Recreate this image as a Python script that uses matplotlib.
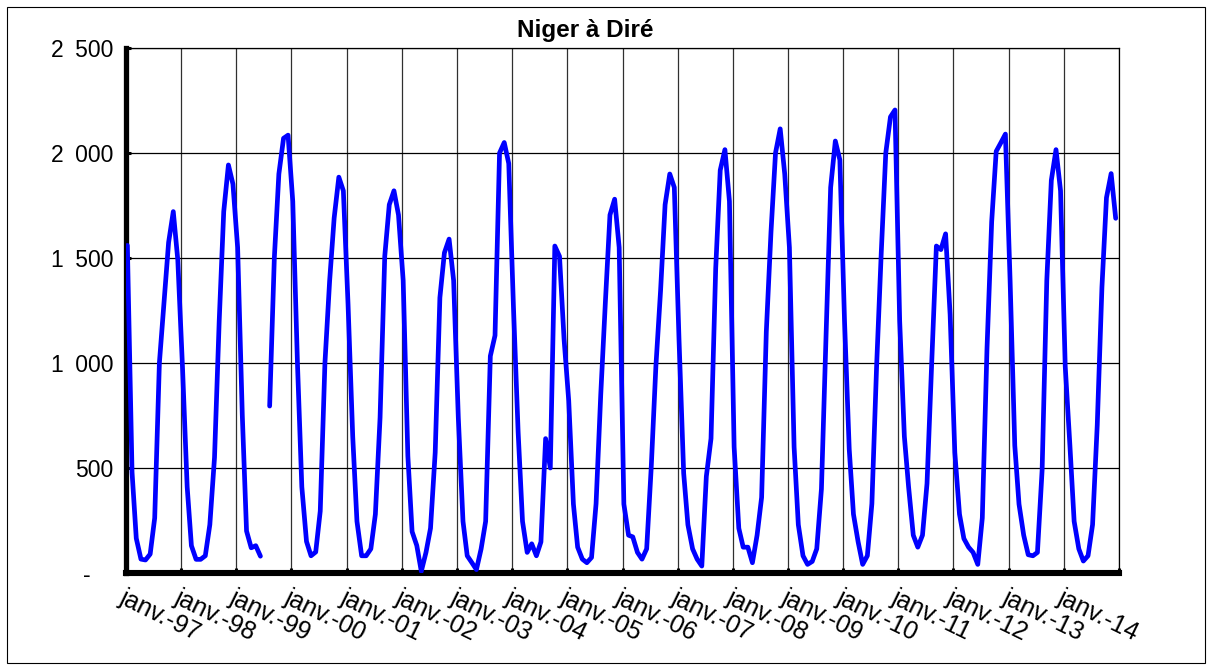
import datetime as dt
import numpy as np
import matplotlib
matplotlib.use("Agg")
import matplotlib.pyplot as plt
from matplotlib.patches import Rectangle

# Monthly flows (m3/s), Niger at Diré, Jan..Dec of each year
flow_1997 = [1560, 480, 165, 66, 62, 90, 262, 1000, 1295, 1574, 1721, 1490]
flow_1998 = [980, 410, 130, 65, 65, 82, 230, 550, 1200, 1721, 1943, 1852]
flow_1999 = [1550, 750, 200, 120, 130, 80, np.nan, 795, 1500, 1900, 2070, 2085]
flow_2000 = [1770, 1000, 410, 150, 82, 100, 295, 1000, 1390, 1690, 1885, 1820]
flow_2001 = [1280, 650, 246, 82, 82, 115, 280, 740, 1508, 1754, 1820, 1705]
flow_2002 = [1393, 557, 197, 131, 8, 98, 213, 574, 1311, 1525, 1590, 1393]
flow_2003 = [740, 246, 82, 49, 16, 115, 246, 1033, 1131, 2000, 2050, 1950]
flow_2004 = [1269, 672, 246, 98, 139, 82, 148, 640, 500, 1557, 1508, 1115]
flow_2005 = [820, 328, 123, 66, 49, 74, 330, 850, 1295, 1705, 1780, 1550]
flow_2006 = [328, 180, 172, 98, 66, 115, 500, 984, 1344, 1754, 1900, 1836]
flow_2007 = [1115, 475, 230, 115, 66, 33, 460, 640, 1450, 1918, 2016, 1770]
flow_2008 = [600, 213, 123, 123, 49, 180, 360, 1148, 1623, 2000, 2115, 1900]
flow_2009 = [1550, 600, 230, 82, 41, 55, 115, 400, 1140, 1836, 2057, 1967]
flow_2010 = [1197, 590, 280, 148, 41, 82, 330, 980, 1525, 2000, 2172, 2205]
flow_2011 = [1200, 650, 410, 180, 123, 180, 426, 1000, 1557, 1540, 1615, 1230]
flow_2012 = [574, 280, 164, 123, 98, 41, 262, 1066, 1672, 2008, 2049, 2090]
flow_2013 = [1393, 607, 328, 180, 87, 82, 98, 490, 1393, 1870, 2016, 1820]
flow_2014 = [984, 607, 246, 115, 57, 82, 230, 705, 1360, 1787, 1902, 1689]

years = list(range(1997, 2015))
yearly = [flow_1997, flow_1998, flow_1999, flow_2000, flow_2001, flow_2002,
          flow_2003, flow_2004, flow_2005, flow_2006, flow_2007, flow_2008,
          flow_2009, flow_2010, flow_2011, flow_2012, flow_2013, flow_2014]

title = "Niger à Diré"
y_ticks = [0, 500, 1000, 1500, 2000, 2500]
y_labels = ["-\u2002\u2002", "500", "1\u2002000", "1\u2002500", "2\u2002000", "2\u2002500"]
x_tick_years = list(range(1997, 2016))
x_labels = [f"janv.-{y % 100:02d}" for y in range(1997, 2015)] + [""]

dates = []
flows = []
for y, vals in zip(years, yearly):
    for m, v in enumerate(vals, start=1):
        dates.append(dt.datetime(y, m, 10))
        flows.append(v)

W, H = 1210, 669
fig = plt.figure(figsize=(W / 100, H / 100), dpi=100)
fig.patch.set_facecolor("white")

# outer frame of the chart
fig.add_artist(Rectangle((7 / W, 6 / H), 1198 / W, 656 / H, transform=fig.transFigure,
                         fill=False, edgecolor="black", lw=0.8))

L, R, T, B = 126, 1119, 48, 573
ax = fig.add_axes([L / W, 1 - B / H, (R - L) / W, (B - T) / H])

ax.plot(dates, flows, color="#0000FF", lw=3.4, solid_joinstyle="round",
        solid_capstyle="round", zorder=3)

ax.set_xlim(dt.datetime(1997, 1, 1), dt.datetime(2015, 1, 1))
ax.set_ylim(0, 2500)
ax.set_yticks(y_ticks)
ax.set_yticklabels(y_labels)
ax.set_xticks([dt.datetime(y, 1, 1) for y in x_tick_years])
ax.set_xticklabels(x_labels)

ax.grid(True, color="black", lw=0.9, zorder=1)
ax.xaxis.grid(True, color="#303030", lw=0.9)
for s in ["top", "right"]:
    ax.spines[s].set_linewidth(0.9)
ax.spines["left"].set_linewidth(3.8)
ax.spines["bottom"].set_linewidth(4.4)

ax.tick_params(axis="both", direction="in", length=3.5, width=2.2, color="black")
ax.tick_params(axis="y", pad=9, labelsize=16.5)
ax.tick_params(axis="x", pad=9, labelsize=18)
for lab in ax.get_yticklabels():
    lab.set_fontfamily("Liberation Sans")
for lab in ax.get_xticklabels():
    lab.set_fontfamily("Liberation Sans")
    lab.set_rotation(-26)
    lab.set_ha("left")
    lab.set_va("top")
    lab.set_rotation_mode("anchor")

fig.text(585 / W, 1 - 30 / H, title, ha="center", va="center",
         fontsize=17.5, fontweight="bold", family="Liberation Sans")

fig.savefig("out.png", dpi=100, facecolor="white")
